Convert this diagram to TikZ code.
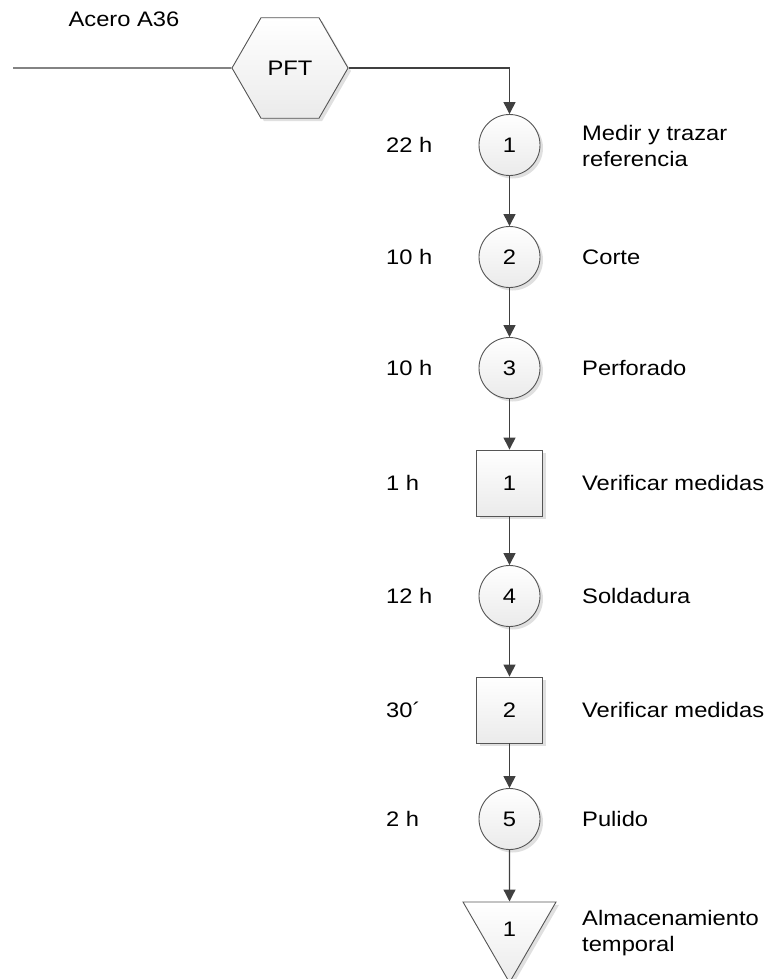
\documentclass[tikz,border=0pt]{standalone}
\usepackage{fontspec}
\setmainfont[FakeStretch=1.13]{Liberation Sans}
\usetikzlibrary{arrows.meta,shapes.geometric,shadows}
\definecolor{linec}{HTML}{404040}
\definecolor{edgec}{HTML}{555555}
\begin{document}
\begin{tikzpicture}[x=1pt,y=-1pt,
  txt/.style={font=\fontsize{21}{26}\selectfont, inner sep=0pt},
  lab/.style={txt, anchor=west, align=left},
  shp/.style={draw=edgec, line width=0.9pt, top color=white, bottom color=gray!16,
    drop shadow={shadow xshift=3pt, shadow yshift=-3pt, fill=black, opacity=0.12},
    font=\fontsize{21}{26}\selectfont, inner sep=0pt},
  opcirc/.style={shp, circle, minimum size=61pt},
  inspbox/.style={shp, rectangle, minimum size=66pt},
  storetri/.style={shp, regular polygon, regular polygon sides=3, shape border rotate=180, minimum size=107.4pt},
  hexa/.style={shp, regular polygon, regular polygon sides=6, minimum size=116pt},
  conn/.style={draw=linec, line width=1.3pt},
  arr/.style={conn, -{Triangle[length=12pt,width=12pt]}}]
\useasboundingbox (0,0) rectangle (767,979);

\node[hexa] (pft) at (290,68) {PFT};
\node[txt] (acero) at (124,19) {Acero A36};
\coordinate (in) at (13,68);

\node[opcirc] (c1) at (509.5,145) {1};
\node[opcirc] (c2) at (509.5,257) {2};
\node[opcirc] (c3) at (509.5,368) {3};
\node[inspbox] (s1) at (509.5,483) {1};
\node[opcirc] (c4) at (509.5,596) {4};
\node[inspbox] (s2) at (509.5,710) {2};
\node[opcirc] (c5) at (509.5,819) {5};
\node[storetri] (t1) at (509.5,928.8) {1};

\node[lab] (l1) at (386,145) {22 h};
\node[lab] (l2) at (386,257) {10 h};
\node[lab] (l3) at (386,368) {10 h};
\node[lab] (l4) at (386,483) {1 h};
\node[lab] (l5) at (386,596) {12 h};
\node[lab] (l6) at (386,710) {30´};
\node[lab] (l7) at (386,819) {2 h};

\node[lab] (r1) at (582,146) {Medir y trazar\\referencia};
\node[lab] (r2) at (582,257) {Corte};
\node[lab] (r3) at (582,368) {Perforado};
\node[lab] (r4) at (582,483) {Verificar medidas};
\node[lab] (r5) at (582,596) {Soldadura};
\node[lab] (r6) at (582,710) {Verificar medidas};
\node[lab] (r7) at (582,819) {Pulido};
\node[lab] (r8) at (582,933) {Almacenamiento\\temporal};

\draw[conn] (in) -- (pft.west);
\draw[arr] (pft.east) -| (c1.north);
\draw[arr] (c1.south) -- (c2.north);
\draw[arr] (c2.south) -- (c3.north);
\draw[arr] (c3.south) -- (s1.north);
\draw[arr] (s1.south) -- (c4.north);
\draw[arr] (c4.south) -- (s2.north);
\draw[arr] (s2.south) -- (c5.north);
\draw[arr] (c5.south) -- (t1.north);
\end{tikzpicture}
\end{document}
